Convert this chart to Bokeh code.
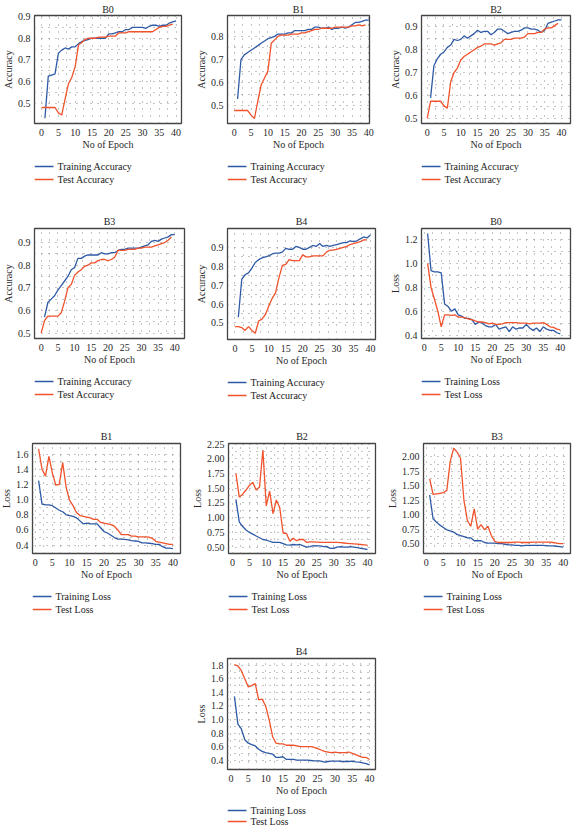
from bokeh.plotting import figure
from bokeh.layouts import column, row
from bokeh.models import FixedTicker, Range1d, Spacer
from bokeh.core.properties import value
from bokeh.embed import file_html
from bokeh.resources import INLINE

FONT = "Liberation Serif"
BLUE = "#2e5aa5"
RED = "#f0522b"

epochs_acc_train = list(range(1, 41))
epochs_acc_test = list(range(0, 40))
epochs_loss = list(range(1, 41))
x_ticks = [0, 5, 10, 15, 20, 25, 30, 35, 40]

acc_ticks = [0.5, 0.6, 0.7, 0.8, 0.9]
acc_labels = ["0.5", "0.6", "0.7", "0.8", "0.9"]
b1_acc_ticks = [0.5, 0.6, 0.7, 0.8]
b1_acc_labels = ["0.5", "0.6", "0.7", "0.8"]
b0_loss_ticks = [0.4, 0.6, 0.8, 1.0, 1.2]
b0_loss_labels = ["0.4", "0.6", "0.8", "1.0", "1.2"]
b1_loss_ticks = [0.4, 0.6, 0.8, 1.0, 1.2, 1.4, 1.6]
b1_loss_labels = ["0.4", "0.6", "0.8", "1.0", "1.2", "1.4", "1.6"]
b2_loss_ticks = [0.5, 0.75, 1.0, 1.25, 1.5, 1.75, 2.0, 2.25]
b2_loss_labels = ["0.50", "0.75", "1.00", "1.25", "1.50", "1.75", "2.00", "2.25"]
b3_loss_ticks = [0.5, 0.75, 1.0, 1.25, 1.5, 1.75, 2.0]
b3_loss_labels = ["0.50", "0.75", "1.00", "1.25", "1.50", "1.75", "2.00"]
b4_loss_ticks = [0.4, 0.6, 0.8, 1.0, 1.2, 1.4, 1.6, 1.8]
b4_loss_labels = ["0.4", "0.6", "0.8", "1.0", "1.2", "1.4", "1.6", "1.8"]

b0_acc_train = [0.43, 0.625, 0.63, 0.635, 0.73, 0.745, 0.755, 0.75, 0.76, 0.76,
                0.775, 0.785, 0.79, 0.795, 0.80, 0.80, 0.80, 0.80, 0.80, 0.82,
                0.82, 0.825, 0.83, 0.83, 0.84, 0.84, 0.85, 0.85, 0.85, 0.85,
                0.845, 0.855, 0.86, 0.86, 0.855, 0.86, 0.86, 0.87, 0.875, 0.88]
b0_acc_test = [0.48, 0.48, 0.48, 0.48, 0.48, 0.455, 0.445, 0.52, 0.59, 0.62,
               0.67, 0.77, 0.78, 0.795, 0.80, 0.80, 0.80, 0.805, 0.805, 0.805,
               0.81, 0.81, 0.81, 0.825, 0.825, 0.825, 0.83, 0.83, 0.83, 0.83,
               0.83, 0.83, 0.83, 0.83, 0.84, 0.85, 0.855, 0.855, 0.86, 0.865]
b1_acc_train = [0.53, 0.70, 0.72, 0.73, 0.74, 0.75, 0.76, 0.77, 0.78, 0.79,
                0.795, 0.80, 0.81, 0.81, 0.81, 0.815, 0.815, 0.825, 0.825, 0.825,
                0.825, 0.83, 0.83, 0.84, 0.84, 0.835, 0.835, 0.84, 0.83, 0.835,
                0.835, 0.84, 0.835, 0.84, 0.85, 0.86, 0.86, 0.865, 0.87, 0.87]
b1_acc_test = [0.48, 0.48, 0.48, 0.48, 0.48, 0.46, 0.445, 0.52, 0.59, 0.62,
               0.65, 0.77, 0.785, 0.80, 0.805, 0.805, 0.805, 0.81, 0.81, 0.81,
               0.815, 0.815, 0.82, 0.825, 0.83, 0.83, 0.835, 0.835, 0.835, 0.835,
               0.84, 0.84, 0.84, 0.84, 0.84, 0.845, 0.845, 0.85, 0.845, 0.85]
b2_acc_train = [0.59, 0.73, 0.76, 0.78, 0.79, 0.81, 0.82, 0.845, 0.84, 0.845,
                0.86, 0.85, 0.86, 0.87, 0.885, 0.875, 0.88, 0.88, 0.865, 0.875,
                0.89, 0.89, 0.88, 0.87, 0.875, 0.88, 0.88, 0.885, 0.895, 0.895,
                0.89, 0.89, 0.885, 0.875, 0.885, 0.915, 0.92, 0.925, 0.93, 0.93]
b2_acc_test = [0.50, 0.575, 0.575, 0.575, 0.575, 0.555, 0.545, 0.66, 0.70, 0.72,
               0.755, 0.77, 0.78, 0.79, 0.80, 0.81, 0.815, 0.825, 0.825, 0.825,
               0.82, 0.825, 0.83, 0.845, 0.845, 0.845, 0.85, 0.85, 0.85, 0.855,
               0.87, 0.87, 0.87, 0.875, 0.875, 0.89, 0.895, 0.895, 0.905, 0.915]
b3_acc_train = [0.57, 0.635, 0.65, 0.665, 0.69, 0.71, 0.73, 0.75, 0.78, 0.79,
                0.83, 0.83, 0.84, 0.845, 0.845, 0.845, 0.845, 0.855, 0.85, 0.85,
                0.855, 0.855, 0.865, 0.87, 0.87, 0.875, 0.875, 0.875, 0.875, 0.88,
                0.885, 0.89, 0.905, 0.91, 0.905, 0.915, 0.92, 0.925, 0.935, 0.935]
b3_acc_test = [0.50, 0.555, 0.575, 0.575, 0.575, 0.575, 0.59, 0.64, 0.70, 0.715,
               0.755, 0.77, 0.78, 0.795, 0.80, 0.81, 0.81, 0.82, 0.825, 0.825,
               0.82, 0.825, 0.835, 0.865, 0.865, 0.865, 0.87, 0.87, 0.87, 0.875,
               0.875, 0.88, 0.88, 0.88, 0.885, 0.89, 0.895, 0.90, 0.91, 0.925]
b4_acc_train = [0.53, 0.73, 0.755, 0.765, 0.79, 0.82, 0.835, 0.845, 0.85, 0.855,
                0.865, 0.87, 0.87, 0.875, 0.895, 0.89, 0.89, 0.905, 0.90, 0.89,
                0.89, 0.90, 0.91, 0.905, 0.92, 0.905, 0.91, 0.905, 0.91, 0.915,
                0.92, 0.925, 0.925, 0.935, 0.93, 0.935, 0.945, 0.955, 0.95, 0.965]
b4_acc_test = [0.48, 0.48, 0.475, 0.46, 0.48, 0.46, 0.445, 0.51, 0.52, 0.545,
               0.59, 0.63, 0.66, 0.74, 0.805, 0.81, 0.835, 0.83, 0.83, 0.83,
               0.86, 0.85, 0.85, 0.855, 0.855, 0.855, 0.855, 0.875, 0.885, 0.885,
               0.89, 0.895, 0.90, 0.905, 0.915, 0.92, 0.925, 0.93, 0.94, 0.94]

b0_loss_train = [1.25, 0.94, 0.93, 0.93, 0.92, 0.66, 0.64, 0.60, 0.62, 0.57,
                 0.56, 0.54, 0.54, 0.53, 0.49, 0.51, 0.50, 0.48, 0.47, 0.47,
                 0.49, 0.45, 0.46, 0.47, 0.43, 0.47, 0.45, 0.46, 0.46, 0.49,
                 0.46, 0.44, 0.46, 0.43, 0.47, 0.45, 0.44, 0.44, 0.42, 0.41]
b0_loss_test = [1.0, 0.80, 0.70, 0.60, 0.47, 0.57, 0.57, 0.565, 0.57, 0.55,
                0.55, 0.545, 0.535, 0.53, 0.52, 0.51, 0.51, 0.505, 0.495, 0.50,
                0.49, 0.49, 0.495, 0.505, 0.505, 0.505, 0.505, 0.50, 0.50, 0.50,
                0.495, 0.50, 0.50, 0.50, 0.505, 0.49, 0.47, 0.465, 0.45, 0.445]
b1_loss_train = [1.25, 0.94, 0.93, 0.93, 0.92, 0.89, 0.86, 0.84, 0.80, 0.79,
                 0.78, 0.76, 0.72, 0.68, 0.69, 0.68, 0.68, 0.68, 0.63, 0.58,
                 0.56, 0.53, 0.50, 0.48, 0.48, 0.475, 0.47, 0.46, 0.455, 0.45,
                 0.43, 0.43, 0.425, 0.42, 0.41, 0.41, 0.38, 0.36, 0.36, 0.355]
b1_loss_test = [1.67, 1.40, 1.31, 1.57, 1.35, 1.19, 1.20, 1.49, 1.16, 0.99,
                0.92, 0.83, 0.79, 0.78, 0.77, 0.76, 0.74, 0.74, 0.70, 0.69,
                0.68, 0.67, 0.65, 0.60, 0.54, 0.54, 0.54, 0.52, 0.52, 0.51,
                0.51, 0.51, 0.505, 0.49, 0.45, 0.44, 0.43, 0.42, 0.41, 0.41]
b2_loss_train = [1.31, 0.93, 0.85, 0.79, 0.75, 0.72, 0.69, 0.66, 0.63, 0.62,
                 0.60, 0.58, 0.58, 0.58, 0.56, 0.54, 0.535, 0.545, 0.54, 0.545,
                 0.52, 0.50, 0.51, 0.525, 0.52, 0.52, 0.51, 0.51, 0.48, 0.48,
                 0.50, 0.51, 0.50, 0.50, 0.51, 0.50, 0.49, 0.48, 0.47, 0.46]
b2_loss_test = [1.75, 1.35, 1.40, 1.47, 1.55, 1.60, 1.47, 1.52, 2.15, 1.20,
                1.45, 1.07, 1.30, 1.17, 0.74, 0.73, 0.60, 0.65, 0.61, 0.63,
                0.63, 0.58, 0.59, 0.59, 0.585, 0.58, 0.58, 0.58, 0.58, 0.58,
                0.58, 0.575, 0.57, 0.565, 0.56, 0.555, 0.55, 0.545, 0.54, 0.535]
b3_loss_train = [1.34, 0.93, 0.87, 0.82, 0.78, 0.74, 0.72, 0.70, 0.66, 0.64,
                 0.62, 0.60, 0.60, 0.55, 0.55, 0.55, 0.52, 0.51, 0.51, 0.51,
                 0.50, 0.50, 0.49, 0.48, 0.48, 0.47, 0.47, 0.46, 0.47, 0.47,
                 0.47, 0.47, 0.47, 0.47, 0.465, 0.46, 0.46, 0.455, 0.45, 0.44]
b3_loss_test = [1.62, 1.35, 1.36, 1.37, 1.38, 1.42, 1.92, 2.15, 2.08, 1.98,
                1.25, 0.90, 0.80, 1.10, 0.75, 0.83, 0.74, 0.80, 0.64, 0.54,
                0.52, 0.52, 0.52, 0.52, 0.52, 0.525, 0.525, 0.52, 0.52, 0.52,
                0.525, 0.525, 0.525, 0.525, 0.525, 0.525, 0.52, 0.51, 0.50, 0.50]
b4_loss_train = [1.34, 0.93, 0.86, 0.70, 0.65, 0.63, 0.61, 0.56, 0.53, 0.51,
                 0.50, 0.49, 0.44, 0.44, 0.45, 0.41, 0.41, 0.41, 0.40, 0.40,
                 0.40, 0.40, 0.395, 0.39, 0.39, 0.385, 0.37, 0.38, 0.385, 0.385,
                 0.385, 0.38, 0.38, 0.38, 0.385, 0.375, 0.37, 0.36, 0.35, 0.33]
b4_loss_test = [1.81, 1.79, 1.72, 1.60, 1.48, 1.50, 1.53, 1.29, 1.30, 1.20,
                1.00, 0.75, 0.65, 0.64, 0.64, 0.62, 0.62, 0.62, 0.61, 0.60,
                0.60, 0.60, 0.60, 0.59, 0.57, 0.55, 0.53, 0.52, 0.51, 0.52,
                0.51, 0.51, 0.51, 0.52, 0.50, 0.48, 0.46, 0.44, 0.44, 0.41]

AXIS_H = 36


def make_panel(title, kind, train, test, yticks, ylabels, xr, yr, geom,
               top=(18, 3), leg=(7, 13)):
    # geom: (fig_width, left_border, frame_width, cell_height, frame_height)
    fw, lb, frw, ch, frh = geom
    top_h, title_gap = top
    rb = fw - lb - frw
    main_h = top_h + frh + AXIS_H
    p = figure(output_backend="svg", toolbar_location=None,
               width=fw, height=main_h,
               min_border_left=lb, min_border_right=rb,
               min_border_top=top_h, min_border_bottom=AXIS_H,
               x_range=Range1d(*xr), y_range=Range1d(*yr))
    p.title.text = title
    p.title.align = "center"
    p.title.text_font = FONT
    p.title.text_font_size = "10px"
    p.title.text_font_style = "normal"
    p.title.text_color = "#222222"
    p.title.standoff = title_gap
    p.outline_line_color = "#444444"
    p.outline_line_width = 1.3
    p.background_fill_color = "white"
    p.border_fill_color = "white"

    if kind == "acc":
        xtr, xte = epochs_acc_train, epochs_acc_test
        ylab = "Accuracy"
        names = ["Training Accuracy", "Test Accuracy"]
    else:
        xtr, xte = epochs_loss, epochs_loss
        ylab = "Loss"
        names = ["Training Loss", "Test Loss"]

    p.line(xtr, train, line_color=BLUE, line_width=1.3)
    p.line(xte, test, line_color=RED, line_width=1.3)

    p.xaxis.ticker = FixedTicker(ticks=x_ticks)
    p.yaxis.ticker = FixedTicker(ticks=yticks)
    p.yaxis.major_label_overrides = {t: l for t, l in zip(yticks, ylabels)}
    p.xaxis.axis_label = "No of Epoch"
    p.yaxis.axis_label = ylab
    for ax in (p.xaxis, p.yaxis):
        ax.axis_line_color = None
        ax.major_tick_line_color = None
        ax.minor_tick_line_color = None
        ax.major_tick_in = 0
        ax.major_tick_out = 0
        ax.minor_tick_in = 0
        ax.minor_tick_out = 0
        ax.major_label_text_font = FONT
        ax.major_label_text_font_size = "10px"
        ax.major_label_text_color = "#2a2a2a"
        ax.axis_label_text_font = FONT
        ax.axis_label_text_font_size = "10px"
        ax.axis_label_text_font_style = "normal"
        ax.axis_label_text_color = "#2a2a2a"
    p.xaxis.major_label_standoff = 5
    p.xaxis.axis_label_standoff = 0
    p.yaxis.major_label_standoff = 4
    p.yaxis.axis_label_standoff = 1

    for g in (p.xgrid, p.ygrid):
        g.grid_line_color = "#888888"
        g.grid_line_dash = "1 6"
        g.grid_line_width = 1
        g.minor_grid_line_color = "#888888"
        g.minor_grid_line_dash = "1 6"
        g.minor_grid_line_width = 1
    p.xgrid.ticker = FixedTicker(ticks=x_ticks, minor_ticks=[2.5 + 5 * i for i in range(8)])
    minor_y = [(a + b) / 2 for a, b in zip(yticks[:-1], yticks[1:])]
    p.ygrid.ticker = FixedTicker(ticks=yticks, minor_ticks=minor_y)

    # legend strip below the chart: same side borders as the chart, so x is px from frame left,
    # y is -px from the strip's top
    leg_h = ch - main_h
    row1, step = leg
    q = figure(output_backend="svg", toolbar_location=None,
               width=fw, height=leg_h,
               min_border_left=lb, min_border_right=rb,
               min_border_top=0, min_border_bottom=0,
               x_range=Range1d(0, frw), y_range=Range1d(-leg_h, 0),
               x_axis_location=None, y_axis_location=None)
    q.outline_line_color = None
    q.xgrid.visible = False
    q.ygrid.visible = False
    q.background_fill_color = "white"
    q.border_fill_color = "white"
    rows_y = [-row1, -row1 - step]
    q.segment(x0=[0, 0], x1=[19, 19], y0=rows_y, y1=rows_y,
              line_color=[BLUE, RED], line_width=1.3)
    q.text(x=[23, 23], y=rows_y, text=names,
           text_font=value(FONT), text_font_size="10px", text_color="#222222",
           text_baseline="middle", text_align="left")
    return column(p, q)


# layout starts at x = -3: column 1 spans -3..187, column 2 187..378, column 3 378..572
R1 = (15, 1)
f1 = make_panel("B0", "acc", b0_acc_train, b0_acc_test, acc_ticks, acc_labels,
                (-2.1, 41.6), (0.406, 0.905), (190, 37, 147, 210, 108), top=R1)
f2 = make_panel("B1", "acc", b1_acc_train, b1_acc_test, b1_acc_ticks, b1_acc_labels,
                (-2.0, 40.2), (0.424, 0.89), (191, 40, 142, 210, 108), top=R1)
f3 = make_panel("B2", "acc", b2_acc_train, b2_acc_test, acc_ticks, acc_labels,
                (-1.7, 42.7), (0.478, 0.949), (194, 43, 149, 210, 108), top=R1)
f4 = make_panel("B3", "acc", b3_acc_train, b3_acc_test, acc_ticks, acc_labels,
                (-2.0, 42.9), (0.476, 0.962), (190, 37, 150, 215, 110))
f5 = make_panel("B4", "acc", b4_acc_train, b4_acc_test, acc_ticks, acc_labels,
                (-2.2, 41.5), (0.412, 1.0), (191, 40, 148, 215, 111))
f6 = make_panel("B0", "loss", b0_loss_train, b0_loss_test, b0_loss_ticks, b0_loss_labels,
                (-0.8, 43.0), (0.372, 1.292), (194, 43, 149, 215, 110))
f7 = make_panel("B1", "loss", b1_loss_train, b1_loss_test, b1_loss_ticks, b1_loss_labels,
                (-0.77, 42.2), (0.29, 1.74), (190, 35, 148, 215, 110))
f8 = make_panel("B2", "loss", b2_loss_train, b2_loss_test, b2_loss_ticks, b2_loss_labels,
                (-1.2, 42.4), (0.392, 2.26), (191, 41, 147, 215, 110))
f9 = make_panel("B3", "loss", b3_loss_train, b3_loss_test, b3_loss_ticks, b3_loss_labels,
                (-0.8, 42.1), (0.33, 2.23), (194, 45, 147, 215, 110))
f10 = make_panel("B4", "loss", b4_loss_train, b4_loss_test, b4_loss_ticks, b4_loss_labels,
                 (-1.0, 41.7), (0.262, 1.9), (191, 40, 148, 188, 111), leg=(5, 11))

layout = column(row(f1, f2, f3), row(f4, f5, f6), row(f7, f8, f9),
                row(Spacer(width=190, height=188), f10),
                styles={"position": "absolute", "left": "-3px", "top": "0px"})

open("out.html", "w").write(file_html(layout, INLINE))
